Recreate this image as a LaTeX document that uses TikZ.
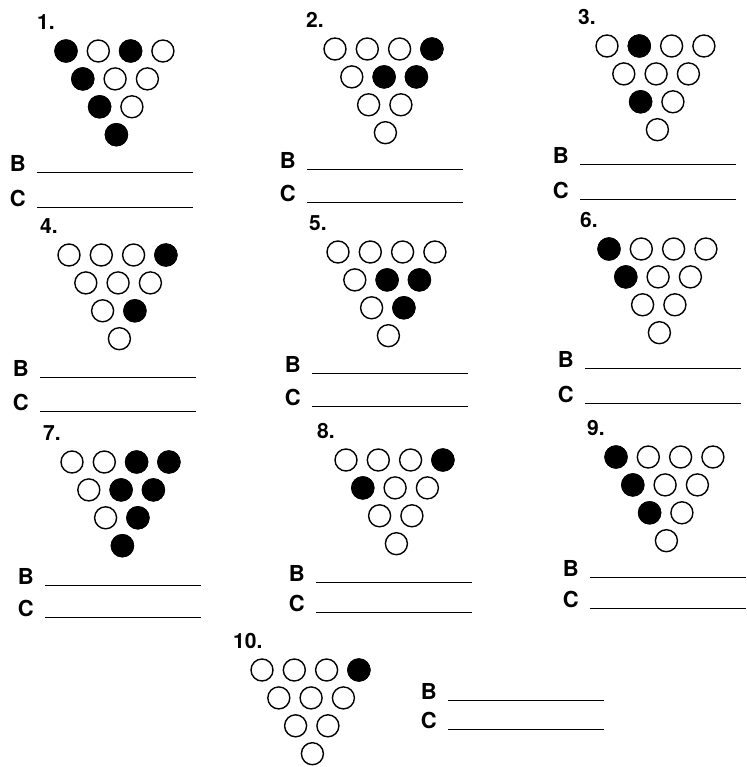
\documentclass[tikz,border=0pt]{standalone}
\usepackage{fontspec}
\setmainfont{TeX Gyre Heros}
\usepackage{tikz}
\usetikzlibrary{positioning}

\begin{document}
\begin{tikzpicture}[x=1pt, y=-1pt,
	bolo/.style={circle, draw, line width=1.4pt, minimum size=22pt, inner sep=0pt},
	lleno/.style={fill=black},
	numero/.style={font=\fontsize{21}{22}\selectfont\bfseries, anchor=west, inner sep=0pt},
	letra/.style={font=\fontsize{22}{24}\selectfont\bfseries, anchor=base east, inner sep=0pt},
	raya/.style={line width=1pt}]
	\useasboundingbox (0,0) rectangle (746,767);
	\foreach \n/\x/\y/\bx/\by/\cy/\caidos in {
		1/66/51/37/173/208/{1/1,1/3,2/1,3/1,4/1},
		2/335/49/307/170/203/{1/4,2/2,2/3},
		3/607/46/580/165/200/{1/2,3/1},
		4/69/255/40/377/411/{1/4,3/2},
		5/338/252/312/373/406/{2/2,2/3,3/2},
		6/609/249/585/368/403/{1/1,2/1},
		7/72/462/45/585/617/{1/3,1/4,2/2,2/3,3/2,4/1},
		8/346/460/316/582/612/{1/4,2/1},
		9/616/457/590/577/608/{1/1,2/1,3/1},
		10/262/670/448/700/729/{1/4}}{
		\node[numero] (num\n) at (\x-29,\y-29) {\n.};
		% triangulo de bolos, 4-3-2-1
		\foreach \r [evaluate=\r as \k using int(5-\r)] in {1,...,4}{
			\foreach \c in {1,...,\k}{
				\node[bolo] (b\n-\r-\c) at ({\x+16.8*(\r-1)+32.3*(\c-1)}, {\y+27.9*(\r-1)}) {};
			}
		}
		\foreach \r/\c in \caidos{
			\node[bolo, lleno] (f\n-\r-\c) at (b\n-\r-\c) {};
		}
		% respuestas B y C
		\coordinate (bi\n) at (\bx,\by);
		\coordinate[right=156pt of bi\n] (bf\n);
		\coordinate (ci\n) at (\bx,\cy);
		\coordinate[right=156pt of ci\n] (cf\n);
		\node[letra] (B\n) at ([xshift=-11pt, yshift=1pt]bi\n) {B};
		\node[letra] (C\n) at ([xshift=-11pt, yshift=1pt]ci\n) {C};
		\draw[raya] (bi\n) -- (bf\n);
		\draw[raya] (ci\n) -- (cf\n);
	}
\end{tikzpicture}
\end{document}
